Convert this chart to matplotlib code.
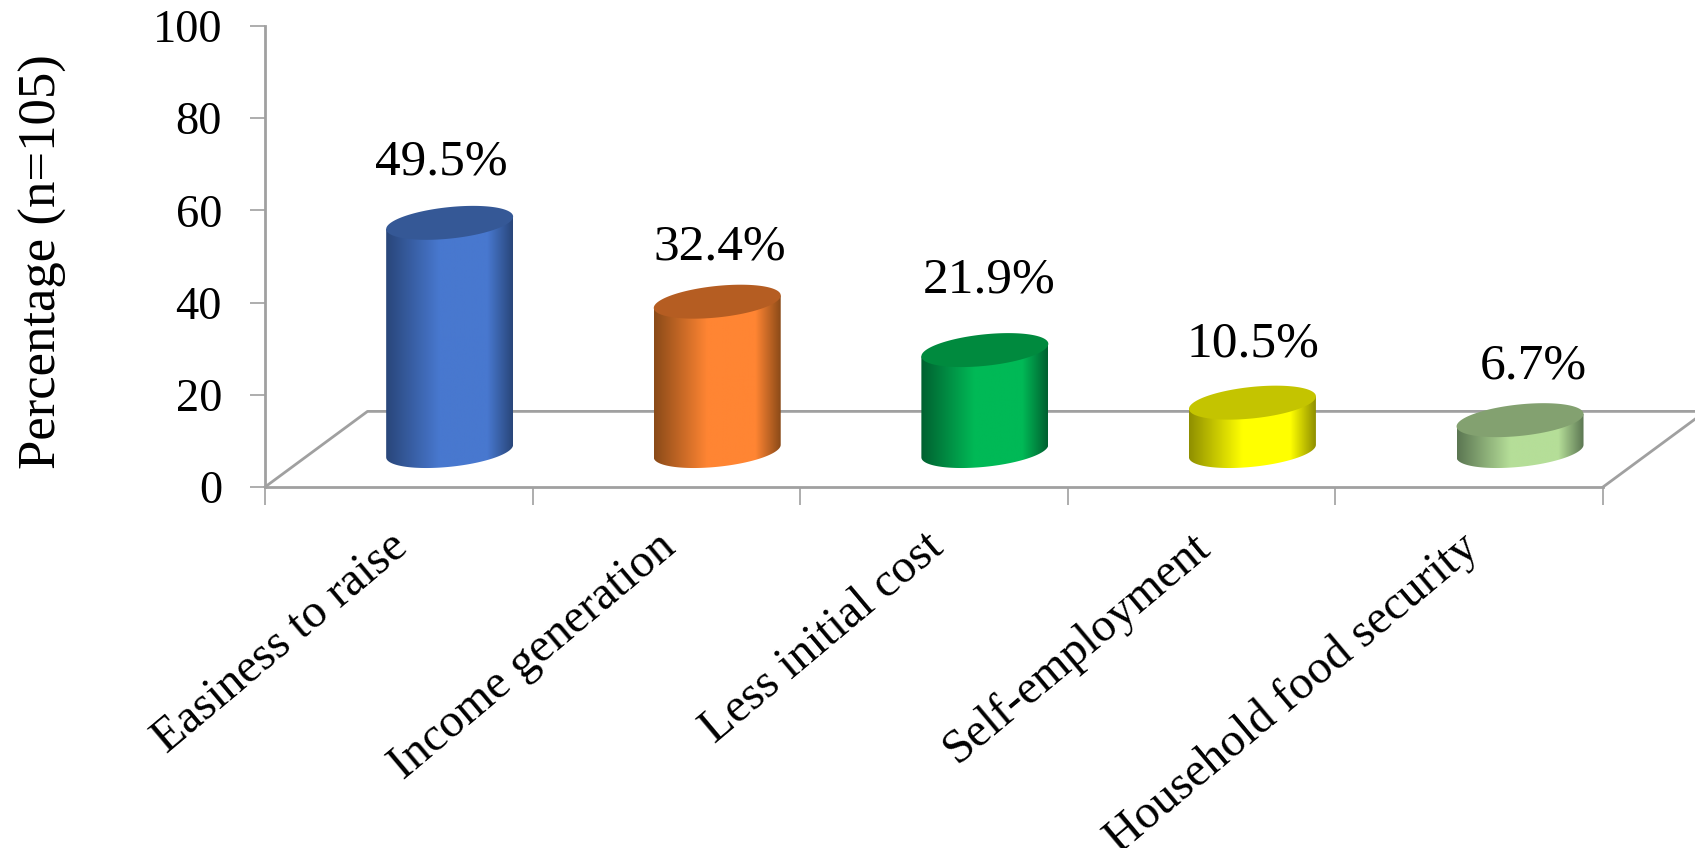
import numpy as np
from matplotlib import pyplot as plt
from matplotlib.colors import LinearSegmentedColormap
from matplotlib.patches import Polygon

plt.rcParams['font.family'] = ['Liberation Serif', 'DejaVu Serif']

categories = ["Easiness to raise", "Income generation", "Less initial cost",
              "Self-employment", "Household food security"]
values = [49.5, 32.4, 21.9, 10.5, 6.7]
labels = ["49.5%", "32.4%", "21.9%", "10.5%", "6.7%"]
y_ticks = [0, 20, 40, 60, 80, 100]

dark_colors = ["#29467a", "#8a4a18", "#006030", "#8f8f00", "#5b7652"]
bright_colors = ["#4878cf", "#ff8533", "#00b956", "#ffff00", "#b5de98"]
top_colors = ["#355896", "#b55d22", "#008a3e", "#c4c400", "#83a170"]

GRAY = "#a0a0a0"
AX_L, AX_R, AX_TOP, AX_BOT = 265, 1603, 26, 487
W, H = 1695, 848
PX_X = (AX_R - AX_L) / 5
PX_Y = (AX_BOT - AX_TOP) / 100

# 3d look: floor depth, bar offset on the floor, ellipse shape in pixels
DEPTH_X, DEPTH_Y = 0.383, 16.4
BAR_DX, BAR_BASE = 0.19, 7.8
ELL_A, ELL_B, ELL_TILT = 63.8, 15.7, np.radians(6)
LABEL_DX = [0.157, 0.2, 0.205, 0.19, 0.24]
LABEL_DY = [13.2, 11.7, 15.2, 12.7, 11.7]


def ellipse_xy(cx, cy, t):
    # ellipse is round in pixels, so work there and go back to data units
    px = ELL_A * np.cos(t) * np.cos(ELL_TILT) - ELL_B * np.sin(t) * np.sin(ELL_TILT)
    py = ELL_A * np.cos(t) * np.sin(ELL_TILT) + ELL_B * np.sin(t) * np.cos(ELL_TILT)
    return np.column_stack([cx + px / PX_X, cy + py / PX_Y])


fig = plt.figure(figsize=(W / 100, H / 100), dpi=100)
ax = fig.add_axes([AX_L / W, 1 - AX_BOT / H, (AX_R - AX_L) / W, (AX_BOT - AX_TOP) / H])

# floor
ax.plot([0, DEPTH_X, 5 + DEPTH_X], [0, DEPTH_Y, DEPTH_Y], color=GRAY, lw=2, clip_on=False, zorder=1)
ax.plot([5, 5 + DEPTH_X], [0, DEPTH_Y], color=GRAY, lw=2, clip_on=False, zorder=1)

t0 = np.arctan2(-ELL_B * np.sin(ELL_TILT), ELL_A * np.cos(ELL_TILT))
half_w = ellipse_xy(0, 0, np.array([t0]))[0, 0]

for i, v in enumerate(values):
    cx = i + 0.5 + BAR_DX
    top = BAR_BASE + v
    lower = ellipse_xy(cx, BAR_BASE, np.linspace(t0 + np.pi, t0 + 2 * np.pi, 80))
    side = np.vstack([ellipse_xy(cx, top, np.array([t0 + np.pi])), lower,
                      ellipse_xy(cx, top, np.array([t0]))])
    body = Polygon(side, closed=True, facecolor="none", edgecolor="none", zorder=2)
    ax.add_patch(body)
    cmap = LinearSegmentedColormap.from_list("c" + str(i), [
        (0, dark_colors[i]), (0.42, bright_colors[i]), (0.58, bright_colors[i]),
        (0.8, bright_colors[i]), (1, dark_colors[i])])
    im = ax.imshow(np.linspace(0, 1, 256)[None, :], cmap=cmap, aspect="auto", zorder=2,
                   extent=[cx - half_w, cx + half_w, BAR_BASE - 5, top + 5])
    im.set_clip_path(body)
    ax.add_patch(Polygon(ellipse_xy(cx, top, np.linspace(0, 2 * np.pi, 160)), closed=True,
                         facecolor=top_colors[i], edgecolor="none", zorder=3))
    ax.text(i + 0.5 + LABEL_DX[i], top + LABEL_DY[i], labels[i], fontsize=37,
            ha="center", va="center", color="black", zorder=4)

ax.set_xlim(0, 5)
ax.set_ylim(0, 100)
ax.spines["top"].set_visible(False)
ax.spines["right"].set_visible(False)
ax.spines["left"].set_color(GRAY)
ax.spines["bottom"].set_color(GRAY)
ax.spines["left"].set_linewidth(2)
ax.spines["bottom"].set_linewidth(2)
ax.patch.set_alpha(0)

ax.set_yticks(y_ticks)
ax.tick_params(axis="y", color=GRAY, width=1.2, length=11, pad=20, labelsize=33.5)
ax.set_xticks(range(6))
ax.set_xticklabels([])
ax.tick_params(axis="x", which="major", color=GRAY, width=1.2, length=13)
ax.set_xticks(np.arange(5) + 0.46, minor=True)
ax.set_xticklabels(categories, minor=True, rotation=40, ha="right", va="top",
                   rotation_mode="anchor", fontsize=34.5)
ax.tick_params(axis="x", which="minor", length=0, pad=27)
ax.set_ylabel("Percentage (n=105)", fontsize=38)
ax.yaxis.set_label_coords(-0.148, 0.49)

plt.savefig("out.png", dpi=100)
plt.close()
